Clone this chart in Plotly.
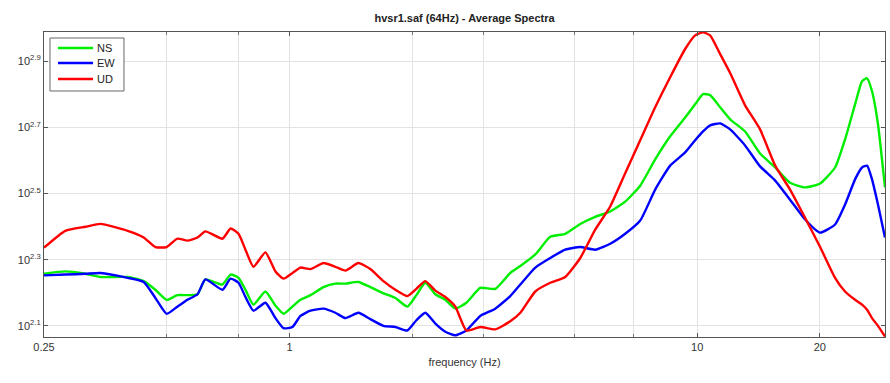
import plotly.graph_objects as go

# Average spectra of the three components (frequency in Hz, amplitude)
freq = [0.25, 0.282, 0.316, 0.344, 0.401, 0.439, 0.469, 0.50, 0.531, 0.562,
        0.595, 0.622, 0.685, 0.717, 0.75, 0.78, 0.816, 0.873, 0.924, 0.967,
        1.017, 1.064, 1.126, 1.212, 1.296, 1.372, 1.476, 1.579, 1.70, 1.819,
        1.946, 2.048, 2.154, 2.28, 2.412, 2.552, 2.716, 2.938, 3.198, 3.48,
        3.684, 4.009, 4.362, 4.748, 5.168, 5.623, 6.12, 6.661, 7.25, 7.89,
        8.587, 9.345, 9.888, 10.34, 10.76, 11.39, 12.05, 13.11, 14.27, 15.54,
        16.9, 18.4, 20.03, 21.79, 23.06, 24.4, 25.38, 26.11, 26.85, 27.77, 28.89]

ns = [181, 184, 181, 177, 177, 172, 162, 151, 156, 156,
      157, 174, 168, 180, 176, 162, 146, 160, 145, 137,
      144, 151, 156, 165, 169, 169, 171, 165, 158, 153,
      144, 156, 170, 157, 151, 142, 148, 164, 163, 182,
      191, 207, 234, 239, 256, 269, 279, 299, 334, 401,
      471, 537, 588, 631, 627, 576, 530, 487, 418, 379,
      341, 330, 339, 379, 461, 588, 691, 705, 644, 512, 330]

ew = [179, 180, 181, 182, 176, 171, 153, 137, 144, 151,
      157, 174, 162, 175, 170, 154, 140, 148, 133, 124,
      125, 135, 140, 142, 138, 133, 138, 132, 126, 125,
      122, 131, 138, 128, 121, 118, 122, 135, 142, 155,
      168, 189, 202, 214, 218, 214, 223, 239, 262, 325,
      384, 421, 458, 487, 508, 515, 494, 442, 382, 346,
      303, 264, 241, 255, 293, 349, 379, 384, 349, 293, 233]

ud = [217, 244, 251, 256, 244, 233, 218, 218, 231, 228,
      233, 243, 231, 248, 239, 214, 190, 210, 184, 175,
      182, 189, 187, 195, 190, 185, 195, 187, 172, 162,
      155, 163, 172, 161, 154, 144, 122, 125, 123, 130,
      138, 160, 170, 177, 202, 246, 289, 364, 458, 576,
      710, 864, 950, 970, 950, 834, 731, 584, 494, 384,
      325, 267, 218, 176, 160, 151, 146, 141, 133, 126, 117]

series = [("NS", ns, "#00ee00"), ("EW", ew, "#0000ff"), ("UD", ud, "#ff0000")]

x_ticks = [0.25, 1, 10, 20]
x_ticktext = ["0.25", "1", "10", "20"]
x_minor = [0.5, 0.75, 2, 3, 5, 7]
y_exps = [2.1, 2.3, 2.5, 2.7, 2.9]

FONT = "Liberation Sans, Arial, sans-serif"

fig = go.Figure()
for name, vals, color in series:
    fig.add_trace(go.Scatter(
        x=freq, y=vals, name=name, mode="lines", showlegend=False,
        line=dict(color=color, width=2.4, shape="spline", smoothing=0.5),
    ))

# Compact boxed legend in the upper-left corner of the axes
box_x0, box_x1, box_y0, box_y1 = 0.0071, 0.0951, 0.8066, 0.9803
fig.add_shape(type="rect", xref="paper", yref="paper",
              x0=box_x0, x1=box_x1, y0=box_y0, y1=box_y1,
              line=dict(color="#666", width=1), fillcolor="white", layer="above")
row_y = [0.9475, 0.8984, 0.8459]
for (name, _, color), ry in zip(series, row_y):
    fig.add_shape(type="line", xref="paper", yref="paper",
                  x0=0.0166, x1=0.0583, y0=ry, y1=ry,
                  line=dict(color=color, width=2.4), layer="above")
    fig.add_annotation(xref="paper", yref="paper", x=0.0610, y=ry,
                       xanchor="left", yanchor="middle", text=name,
                       showarrow=False,
                       font=dict(family=FONT, size=11, color="#222"))

fig.update_layout(
    width=890, height=383,
    margin=dict(l=44, r=5, t=32, b=46),
    paper_bgcolor="white", plot_bgcolor="white",
    font=dict(family=FONT, size=11, color="#333"),
    showlegend=False,
    title=dict(
        text="<b>hvsr1.saf (64Hz) - Average Spectra</b>",
        x=(44 + 885) / 2 / 890, xanchor="center",
        y=1 - 18 / 383, yanchor="middle", yref="container",
        font=dict(family=FONT, size=11, color="#222"),
    ),
)

fig.update_xaxes(
    type="log", range=[-0.60206, 1.4608],
    tickmode="array", tickvals=x_ticks, ticktext=x_ticktext,
    ticks="inside", ticklen=4, tickcolor="#555",
    minor=dict(tickmode="array", tickvals=x_minor, ticks="inside",
               ticklen=3, tickcolor="#777", showgrid=True,
               gridcolor="#e3e3e3", gridwidth=1),
    showline=True, linecolor="#555", linewidth=1, mirror="allticks",
    showgrid=True, gridcolor="#e3e3e3", gridwidth=1,
    zeroline=False,
    title=dict(text="frequency (Hz)", standoff=6,
               font=dict(family=FONT, size=11, color="#333")),
)

fig.update_yaxes(
    type="log", range=[2.0667, 2.9879],
    tickmode="array", tickvals=[10 ** e for e in y_exps],
    ticktext=["10<sup>%.1f</sup>" % e for e in y_exps],
    ticks="inside", ticklen=4, tickcolor="#555",
    showline=True, linecolor="#555", linewidth=1, mirror="allticks",
    showgrid=True, gridcolor="#e3e3e3", gridwidth=1,
    zeroline=False,
)

fig.write_html("out.html")
